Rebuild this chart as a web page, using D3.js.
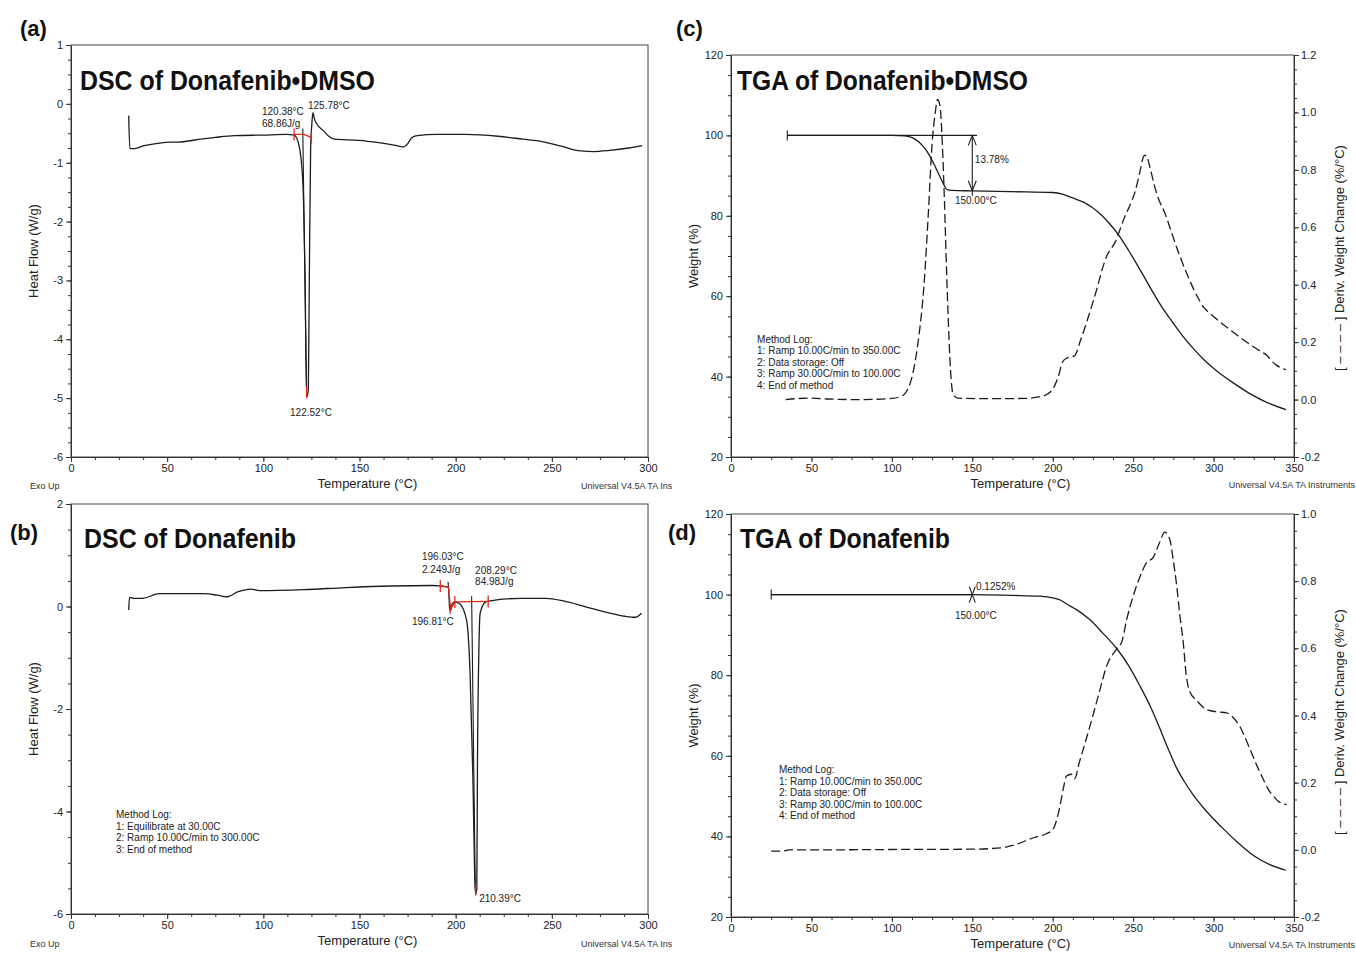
<!DOCTYPE html>
<html lang="en">
<head>
<meta charset="UTF-8">
<title>DSC and TGA of Donafenib</title>
<script src="https://d3js.org/d3.v7.min.js"></script>
<style>
    body { margin: 0; background: #fff; }
    svg { font-family: "Liberation Sans", Arial, sans-serif; }
    .curve { fill: none; stroke: #1c1c1c; stroke-width: 1.3px; }
    .deriv { stroke-dasharray: 9,4; }
    .frame { fill: none; stroke: #444; stroke-width: 1px; }
    .axis path, .axis line { stroke: #333; }
    .axis text { font-size: 11px; fill: #222; font-family: "Liberation Sans", Arial, sans-serif; }
    .red { stroke: #e3261d; stroke-width: 1.3px; fill: none; }
    .blk { stroke: #1c1c1c; stroke-width: 1.1px; fill: none; }
    .note { font-size: 10px; fill: #222; }
    .small { font-size: 9px; fill: #333; }
    .axlabel { font-size: 13px; fill: #222; }
    .tag { font-size: 22px; font-weight: bold; fill: #111; }
    .title { font-size: 27px; font-weight: bold; fill: #111; font-family: "Liberation Sans Narrow", "Liberation Sans", Arial, sans-serif; }
</style>
</head>
<body>
<svg width="1356" height="953"></svg>
<script>
// ---- data ----
// (a) DSC of Donafenib·DMSO  [temperature °C, heat flow W/g]
var dscDmsoCurve = [[30,-0.2],[30.6,-0.76],[33,-0.76],[38,-0.71],[45,-0.67],[52,-0.65],[56,-0.65],[65,-0.61],[75,-0.57],
    [85,-0.54],[100,-0.53],[112,-0.52],[116,-0.53],[118.5,-0.7],[120.5,-1.3],[121.7,-3.0],[122.52,-4.98],[123.4,-4.85],
    [123.9,-3.0],[124.6,-0.75],[125.2,-0.35],[125.78,-0.15],[126.5,-0.25],[128,-0.35],[131,-0.45],[134,-0.55],[137,-0.6],
    [150,-0.62],[160,-0.66],[168,-0.7],[173,-0.73],[175,-0.68],[177,-0.58],[180,-0.54],[190,-0.52],[205,-0.52],[222,-0.55],
    [235,-0.6],[245,-0.64],[255,-0.72],[265,-0.8],[272,-0.81],[280,-0.79],[290,-0.75],[297,-0.71]];
// (b) DSC of Donafenib
var dscCurve = [[30,-0.07],[30.4,0.18],[32.8,0.16],[37,0.16],[46,0.25],[60,0.25],[69,0.25],[76,0.22],[81,0.19],[87,0.29],
    [93.5,0.34],[98,0.31],[121,0.33],[143,0.37],[166,0.4],[188,0.41],[192,0.4],[196.2,0.38],[196.9,-0.05],[197.4,-0.08],
    [198.2,0.05],[199.6,0.09],[202.2,0.05],[205.7,-0.27],[207.5,-1.31],[208.9,-3.26],[210.1,-5.47],[210.39,-5.62],[211.0,-5.5],
    [211.3,-3.26],[212.0,-0.99],[212.7,-0.14],[215.3,0.08],[218,0.11],[234,0.16],[247,0.16],[256,0.11],[268,-0.01],
    [279,-0.12],[288,-0.19],[293.6,-0.21],[295.2,-0.18],[296.6,-0.13]];
// (c) TGA of Donafenib·DMSO  weight % and derivative %/°C
var tgaDmsoWeight = [[35,100],[100,100],[108,99.9],[113,99.4],[117,98.3],[120,97],[123,95.3],[126,93],[129,90.5],[132,88],
    [134,86.6],[137,86.3],[150,86.2],[175,86],[200,85.8],[206,85.4],[212,84.5],[220,83.2],[228,81],[235,78.2],[241,75.2],
    [247,71.5],[253,67.5],[258,64],[263,60.5],[268,57.2],[274,53.8],[281,50],[288,46.7],[295,43.8],[302,41.4],[312,38.5],
    [322,35.9],[333,33.6],[345,31.8]];
var tgaDmsoDeriv = [[34,0],[40,0.003],[50,0.005],[60,0.002],[80,0.0],[100,0.004],[105,0.01],[108,0.02],[111,0.05],[113,0.09],
    [115,0.15],[117,0.23],[120,0.4],[122.5,0.63],[125,0.89],[127,1.0],[128.4,1.045],[130,1.02],[131.3,0.9],[132.7,0.69],
    [134,0.45],[135,0.29],[136.5,0.1],[138,0.02],[141,0.005],[160,0.003],[183,0.004],[192,0.01],[196,0.017],[201,0.046],
    [204,0.09],[206,0.13],[209,0.145],[213.5,0.152],[217.5,0.21],[225.6,0.35],[233.6,0.5],[239,0.55],[244.3,0.63],[249,0.69],
    [251,0.72],[253.7,0.78],[257,0.85],[258,0.85],[260.4,0.81],[263,0.75],[265.7,0.70],[269.7,0.65],[274,0.58],[279,0.5],
    [284,0.43],[289.8,0.36],[294,0.32],[297.8,0.30],[304,0.27],[311,0.24],[318,0.21],[324.6,0.185],[330,0.165],[333,0.155],
    [336,0.135],[339,0.12],[342,0.11],[345,0.104]];
// (d) TGA of Donafenib
var tgaWeight = [[25,100],[150,100],[175,99.8],[192,99.6],[200,99.2],[205,98.6],[209,97.6],[215,96.2],[223,93.8],[231,90.5],
    [240,86.5],[247,82.5],[254,77.5],[261,72],[267,66.4],[272,61.5],[277,57],[282,53.5],[287,50.5],[295,46.5],[305,42.3],
    [315,38.5],[325,35.2],[335,33],[345,31.6]];
var tgaDeriv = [[25,-0.004],[32,-0.004],[36,0],[60,0],[100,0.001],[150,0.002],[168,0.006],[177,0.016],[188,0.036],[196,0.048],
    [200,0.06],[202.5,0.09],[204.5,0.13],[206.5,0.18],[208.6,0.22],[211.5,0.225],[213.7,0.212],[216.5,0.26],[219,0.3],[225,0.4],
    [229,0.47],[233.5,0.547],[239.5,0.597],[243,0.62],[246,0.686],[250,0.755],[254,0.81],[258.3,0.855],[262.4,0.87],[266,0.91],
    [269.7,0.946],[272.8,0.924],[275,0.86],[277,0.79],[279,0.7],[281.1,0.62],[283,0.52],[285.3,0.47],[289.4,0.445],[295.6,0.418],
    [302,0.411],[308,0.408],[312,0.395],[316,0.37],[322.6,0.3],[327,0.25],[330.9,0.21],[334,0.18],[337.2,0.16],[341,0.142],
    [345.4,0.135]];

// tick values
var dscTempTicks = [0,50,100,150,200,250,300];
var tgaTempTicks = [0,50,100,150,200,250,300,350];
var dscDmsoHeatTicks = [1,0,-1,-2,-3,-4,-5,-6];
var dscHeatTicks = [2,0,-2,-4,-6];
var weightTicks = [20,40,60,80,100,120];
var derivDmsoTicks = [-0.2,0,0.2,0.4,0.6,0.8,1.0,1.2];
var derivTicks = [-0.2,0,0.2,0.4,0.6,0.8,1.0];

// annotation texts [temp, value, text]
var dscDmsoNotes = [[99.3,-0.19,"120.38°C"],[99.3,-0.39,"68.86J/g"],[123.2,-0.085,"125.78°C"],[113.9,-5.3,"122.52°C"]];
var dscNotes = [[182.5,0.9,"196.03°C"],[182.5,0.66,"2.249J/g"],[210.1,0.64,"208.29°C"],[210.1,0.42,"84.98J/g"],
    [177.3,-0.37,"196.81°C"],[212.2,-5.77,"210.39°C"]];
var tgaDmsoNotes = [[151.6,93.1,"13.78%"],[139.2,82.9,"150.00°C"]];
var tgaNotes = [[152.3,101.1,"0.1252%"],[139.2,93.9,"150.00°C"]];
var dscLog = ["Method Log:","1: Equilibrate at 30.00C","2: Ramp 10.00C/min to 300.00C","3: End of method"];
var tgaLog = ["Method Log:","1: Ramp 10.00C/min to 350.00C","2: Data storage: Off","3: Ramp 30.00C/min to 100.00C","4: End of method"];

var svg = d3.select("svg");
var line = function(x, y){
    return d3.line().x(function(d){return x(d[0]);}).y(function(d){return y(d[1]);}).curve(d3.curveMonotoneX);
};
var plain = function(d){ return String(d); };

function drawAxes(g, x, y, c){
    g.append("rect").attr("class","frame")
        .attr("x",c.left).attr("y",c.top).attr("width",c.right-c.left).attr("height",c.bottom-c.top);
    g.append("g").attr("class","axis").attr("transform","translate(0,"+c.bottom+")")
        .call(d3.axisBottom(x).tickValues(c.xTicks).tickSize(5).tickSizeOuter(0).tickPadding(2).tickFormat(plain));
    g.append("g").attr("class","axis").attr("transform","translate(0,"+c.bottom+")")
        .call(d3.axisBottom(x).tickValues(d3.range(c.xDomain[0],c.xDomain[1],12.5)).tickSize(3).tickFormat(""))
        .select(".domain").remove();
    g.append("g").attr("class","axis").attr("transform","translate("+c.left+",0)")
        .call(d3.axisLeft(y).tickValues(c.yTicks).tickSize(5).tickSizeOuter(0).tickPadding(3).tickFormat(plain));
    g.append("g").attr("class","axis").attr("transform","translate("+c.left+",0)")
        .call(d3.axisLeft(y).tickValues(d3.range(c.yDomain[0],c.yDomain[1],c.yMinor)).tickSize(3).tickFormat(""))
        .select(".domain").remove();
    // axis titles
    g.append("text").attr("class","axlabel").attr("text-anchor","middle")
        .attr("x",(c.left+c.right)/2 + 8).attr("y",c.bottom+31).text("Temperature (°C)");
    g.append("text").attr("class","axlabel").attr("text-anchor","middle")
        .attr("transform","translate("+(c.left-33)+","+((c.top+c.bottom)/2)+") rotate(-90)").text(c.yLabel);
    g.append("text").attr("class","tag").attr("x",c.tagX).attr("y",c.tagY).text(c.tag);
    g.append("text").attr("class","title").attr("x",c.titleX).attr("y",c.titleY)
        .attr("textLength",c.titleW).attr("lengthAdjust","spacingAndGlyphs").text(c.title);
}

function notes(g, x, y, arr){
    g.selectAll("text.note.n").data(arr).enter().append("text").attr("class","note")
        .attr("x",function(d){return x(d[0]);}).attr("y",function(d){return y(d[1]);})
        .text(function(d){return d[2];});
}
function methodLog(g, px, py, lines){
    var t = g.append("text").attr("class","note").attr("x",px).attr("y",py);
    lines.forEach(function(s,i){
        t.append("tspan").attr("x",px).attr("dy",i==0?0:11.5).text(s);
    });
}
function vtick(g, cls, px, py, h){
    g.append("line").attr("class",cls).attr("x1",px).attr("x2",px).attr("y1",py-h/2).attr("y2",py+h/2);
}

// ---------- (a) ----------
(function(){
    var c = {left:71,right:648,top:45,bottom:457,xDomain:[0,300],yDomain:[-6,1],xTicks:dscTempTicks,yTicks:dscDmsoHeatTicks,
        yMinor:0.25,yLabel:"Heat Flow (W/g)",tag:"(a)",tagX:20,tagY:36,title:"DSC of Donafenib•DMSO",titleX:80,titleY:90,titleW:295};
    var g = svg.append("g");
    var x = d3.scaleLinear().domain(c.xDomain).range([c.left,c.right]);
    var y = d3.scaleLinear().domain(c.yDomain).range([c.bottom,c.top]);
    drawAxes(g,x,y,c);
    g.append("text").attr("class","small").attr("x",30).attr("y",489).text("Exo Up");
    g.append("text").attr("class","small").attr("x",581).attr("y",489).text("Universal V4.5A TA Ins");
    g.append("path").datum(dscDmsoCurve).attr("class","curve").attr("d",line(x,y));
    // onset tangent
    g.append("line").attr("class","blk").attr("x1",x(120.5)).attr("y1",y(-0.42)).attr("x2",x(122.45)).attr("y2",y(-4.85));
    // integration baseline
    g.append("path").attr("class","red").attr("d",d3.line()([[x(116),y(-0.52)],[x(121),y(-0.52)],[x(125),y(-0.57)]]));
    vtick(g,"red",x(116),y(-0.52),12);
    vtick(g,"red",x(125),y(-0.57),12);
    g.append("line").attr("class","red").attr("x1",x(122.52)).attr("x2",x(122.52)).attr("y1",y(-4.8)).attr("y2",y(-5.0));
    notes(g,x,y,dscDmsoNotes);
})();

// ---------- (b) ----------
(function(){
    var c = {left:71,right:648,top:504,bottom:914,xDomain:[0,300],yDomain:[-6,2],xTicks:dscTempTicks,yTicks:dscHeatTicks,
        yMinor:0.5,yLabel:"Heat Flow (W/g)",tag:"(b)",tagX:10,tagY:540,title:"DSC of Donafenib",titleX:84,titleY:548,titleW:212};
    var g = svg.append("g");
    var x = d3.scaleLinear().domain(c.xDomain).range([c.left,c.right]);
    var y = d3.scaleLinear().domain(c.yDomain).range([c.bottom,c.top]);
    drawAxes(g,x,y,c);
    g.append("text").attr("class","small").attr("x",30).attr("y",947).text("Exo Up");
    g.append("text").attr("class","small").attr("x",581).attr("y",947).text("Universal V4.5A TA Ins");
    g.append("path").datum(dscCurve).attr("class","curve").attr("d",line(x,y));
    // onset lines
    g.append("line").attr("class","blk").attr("x1",x(196.03)).attr("y1",y(0.48)).attr("x2",x(196.5)).attr("y2",y(0.3));
    g.append("line").attr("class","blk").attr("x1",x(208.3)).attr("y1",y(0.2)).attr("x2",x(210.2)).attr("y2",y(-5.5));
    // small peak integration
    g.append("path").attr("class","red").attr("d",d3.line()([[x(192),y(0.4)],[x(196.2),y(0.38)],[x(197.4),y(-0.05)],[x(199.6),y(0.09)]]));
    vtick(g,"red",x(192),y(0.4),12);
    g.append("line").attr("class","red").attr("x1",x(197.1)).attr("x2",x(197.1)).attr("y1",y(-0.02)).attr("y2",y(-0.14));
    // main peak integration
    g.append("line").attr("class","red").attr("x1",x(199.6)).attr("x2",x(216.9)).attr("y1",y(0.09)).attr("y2",y(0.1));
    vtick(g,"red",x(199.6),y(0.09),12);
    vtick(g,"red",x(216.9),y(0.1),12);
    g.append("line").attr("class","red").attr("x1",x(210.39)).attr("x2",x(210.39)).attr("y1",y(-5.42)).attr("y2",y(-5.64));
    notes(g,x,y,dscNotes);
    methodLog(g,x(23.4),y(-4.13),dscLog);
})();

// ---------- (c) and (d) ----------
function drawTga(c, weight, deriv, noteArr){
    var g = svg.append("g");
    var x = d3.scaleLinear().domain(c.xDomain).range([c.left,c.right]);
    var y = d3.scaleLinear().domain(c.yDomain).range([c.bottom,c.top]);
    var y2 = d3.scaleLinear().domain(c.y2Domain).range([c.bottom,c.top]);
    drawAxes(g,x,y,c);
    g.append("g").attr("class","axis").attr("transform","translate("+c.right+",0)")
        .call(d3.axisRight(y2).tickValues(c.y2Ticks).tickSize(5).tickSizeOuter(0).tickPadding(2)
            .tickFormat(function(d){return d.toFixed(1);}));
    g.append("g").attr("class","axis").attr("transform","translate("+c.right+",0)")
        .call(d3.axisRight(y2).tickValues(d3.range(c.y2Domain[0],c.y2Domain[1],0.05)).tickSize(3).tickFormat(""))
        .select(".domain").remove();
    g.append("text").attr("class","axlabel").attr("text-anchor","middle")
        .attr("transform","translate("+(c.right+50)+","+c.y2LabelY+") rotate(-90)")
        .text("[ – – – – ] Deriv. Weight Change (%/°C)");
    g.append("text").attr("class","small").attr("text-anchor","end").attr("x",1355).attr("y",c.bottom+31)
        .text("Universal V4.5A TA Instruments");
    g.append("path").datum(weight).attr("class","curve").attr("d",line(x,y));
    g.append("path").datum(deriv).attr("class","curve deriv").attr("d",line(x,y2));
    // step baseline
    g.append("line").attr("class","blk").attr("x1",x(weight[0][0])).attr("x2",x(c.stepEnd)).attr("y1",y(100)).attr("y2",y(100));
    vtick(g,"blk",x(weight[0][0]),y(100),10);
    notes(g,x,y,noteArr);
    methodLog(g,x(c.logT),y(c.logW),tgaLog);
    return {g:g,x:x,y:y};
}

(function(){
    var c = {left:731,right:1294,top:55,bottom:457,xDomain:[0,350],yDomain:[20,120],y2Domain:[-0.2,1.2],
        xTicks:tgaTempTicks,yTicks:weightTicks,y2Ticks:derivDmsoTicks,yMinor:5,yLabel:"Weight (%)",
        tag:"(c)",tagX:676,tagY:36,title:"TGA of Donafenib•DMSO",titleX:737,titleY:90,titleW:291,
        y2LabelY:258,stepEnd:153,logT:16.2,logW:48.4};
    var r = drawTga(c,tgaDmsoWeight,tgaDmsoDeriv,tgaDmsoNotes);
    var g = r.g, px = r.x(150), top = r.y(100), bot = r.y(86.22);
    g.append("line").attr("class","blk").attr("x1",px).attr("x2",px).attr("y1",top).attr("y2",bot+5);
    g.append("path").attr("class","blk").attr("d",d3.line()([[px-4,top+10],[px,top],[px+4,top+10]]));
    g.append("path").attr("class","blk").attr("d",d3.line()([[px-4,bot-10],[px,bot],[px+4,bot-10]]));
})();

(function(){
    var c = {left:731,right:1294,top:514,bottom:917,xDomain:[0,350],yDomain:[20,120],y2Domain:[-0.2,1.0],
        xTicks:tgaTempTicks,yTicks:weightTicks,y2Ticks:derivTicks,yMinor:5,yLabel:"Weight (%)",
        tag:"(d)",tagX:668,tagY:540,title:"TGA of Donafenib",titleX:740,titleY:548,titleW:210,
        y2LabelY:722,stepEnd:150,logT:29.8,logW:55.7};
    var r = drawTga(c,tgaWeight,tgaDeriv,tgaNotes);
    var g = r.g, px = r.x(150), py = r.y(100);
    // crossed marker at 150 °C
    g.append("path").attr("class","blk").attr("d","M"+(px-3)+","+(py-8)+"Q"+px+","+py+" "+(px+3)+","+(py+8));
    g.append("path").attr("class","blk").attr("d","M"+(px+3)+","+(py-8)+"Q"+px+","+py+" "+(px-3)+","+(py+8));
})();
</script>
</body>
</html>
